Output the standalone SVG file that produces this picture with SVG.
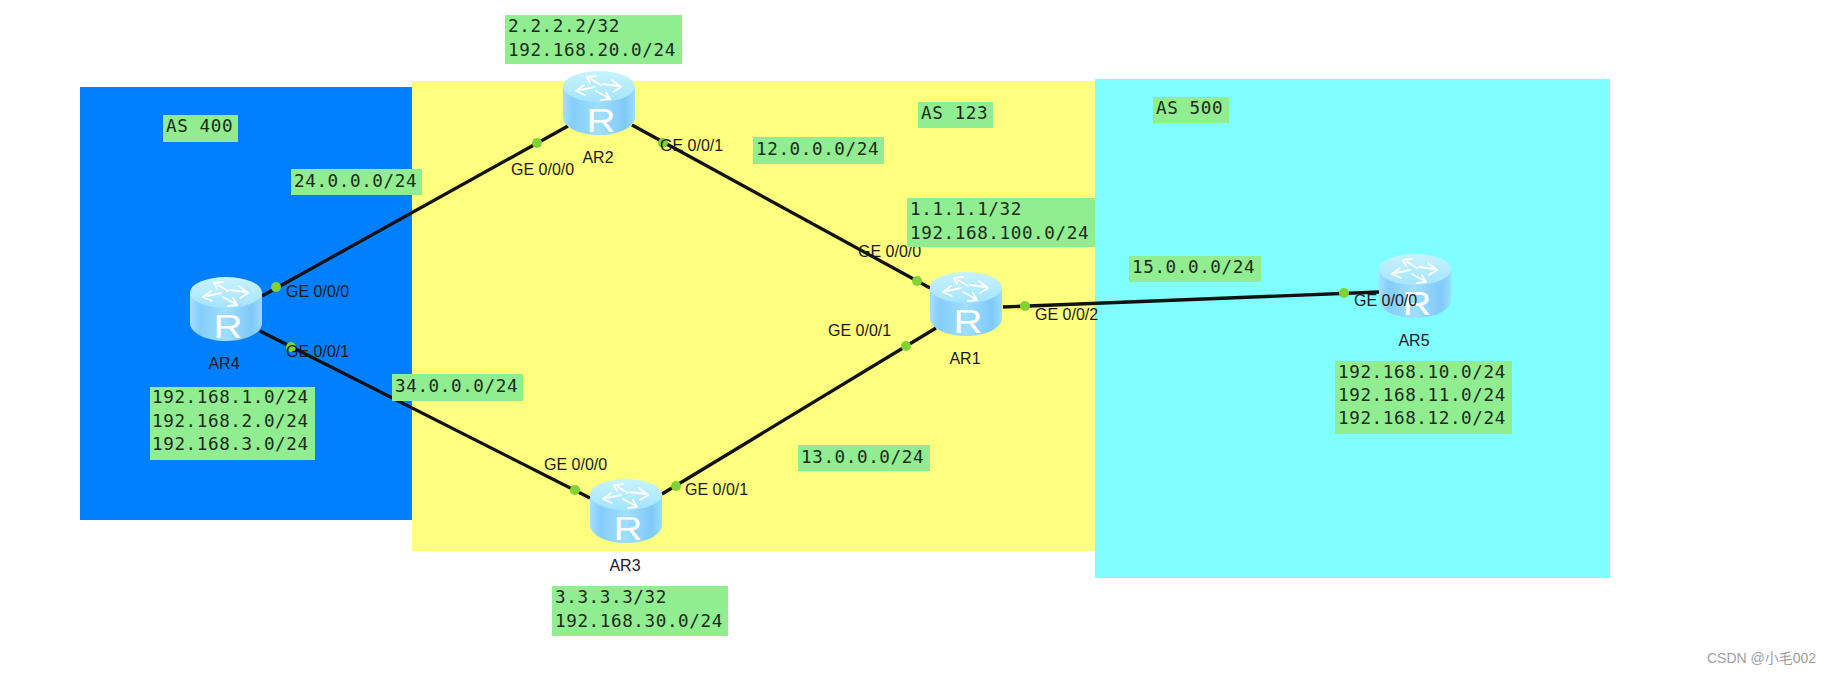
<svg xmlns="http://www.w3.org/2000/svg" xmlns:xlink="http://www.w3.org/1999/xlink" width="1833" height="675" viewBox="0 0 1833 675">
<style>
.box{fill:#90ee90}
.m{font-family:"DejaVu Sans Mono","Liberation Mono",monospace;font-size:17.6px;fill:#1c2a1c;letter-spacing:.6px}
.l{font-family:"Liberation Sans",Arial,sans-serif;font-size:16px;fill:#1a1a1a}
.n{font-family:"Liberation Sans",Arial,sans-serif;font-size:16px;fill:#1a1a2a;text-anchor:middle}
.r{font-family:"Liberation Sans",Arial,sans-serif;font-size:33px;fill:#fff;text-anchor:middle}
.link{stroke:#111;stroke-width:3.3;fill:none}
.dot{fill:#82d235}
</style>
<defs>
<linearGradient id="side" x1="0" x2="1" y1="0" y2="0">
<stop offset="0" stop-color="#a4e0ff"/><stop offset=".14" stop-color="#84cdfb"/><stop offset=".5" stop-color="#9fdfff"/><stop offset=".86" stop-color="#7fc9f8"/><stop offset="1" stop-color="#9cdcff"/>
</linearGradient>
<linearGradient id="top" x1="0" x2="0" y1="0" y2="1">
<stop offset="0" stop-color="#c8f3ff"/><stop offset="1" stop-color="#a4e4fd"/>
</linearGradient>
<symbol id="router" width="72" height="64" viewBox="0 0 72 64" overflow="visible">
<path d="M0 16V46C0 56 16 64 36 64S72 56 72 46V16Z" fill="url(#side)"/>
<ellipse cx="36" cy="15.500" rx="36" ry="15.500" fill="url(#top)"/>
<g fill="none" stroke="#fff" stroke-width="1.800" stroke-linejoin="round" stroke-linecap="round">
<path d="M38 14L28 8M33 5L24 6L27 12"/>
<path d="M40 13L55 15M49 9L58 16L50 21"/>
<path d="M31 16L17 19M21 14L13 20L22 24"/>
<path d="M33 20L44 26M38 29L47 28L43 21"/>
</g>
</symbol>
</defs>

<g id="zones">
<rect id="as400" x="80" y="87" width="333" height="433" fill="#007fff"/>
<rect id="as123" x="412" y="81" width="683" height="470" fill="#ffff7f"/>
<rect id="as500" x="1095" y="79" width="515" height="499" fill="#7fffff"/>
</g>

<g id="connectors">
<path class="link" d="M262 296L568 126"/>
<path class="link" d="M632 125L930 288"/>
<path class="link" d="M260 331L590 498"/>
<path class="link" d="M662 494L936 328"/>
<path class="link" d="M1003 307L1379 292"/>
<g>
<circle class="dot" cx="537" cy="143" r="5"/><circle class="dot" cx="663" cy="143" r="5"/>
<circle class="dot" cx="276" cy="287" r="5"/><circle class="dot" cx="291" cy="347" r="5"/>
<circle class="dot" cx="917" cy="281" r="5"/><circle class="dot" cx="906" cy="346" r="5"/>
<circle class="dot" cx="1025" cy="306" r="5"/><circle class="dot" cx="1344" cy="293" r="5"/>
<circle class="dot" cx="575" cy="490" r="5"/><circle class="dot" cx="676" cy="486" r="5"/>
</g>
<text class="l" x="511" y="175">GE 0/0/0</text>
<text class="l" x="660" y="151">GE 0/0/1</text>
<text class="l" x="286" y="297">GE 0/0/0</text>
<text class="l" x="286" y="357">GE 0/0/1</text>
<text class="l" x="858" y="257">GE 0/0/0</text>
<text class="l" x="828" y="336">GE 0/0/1</text>
<text class="l" x="1035" y="320">GE 0/0/2</text>
<text class="l" x="544" y="470">GE 0/0/0</text>
<text class="l" x="685" y="495">GE 0/0/1</text>
</g>

<g id="AR4"><use xlink:href="#router" href="#router" x="190" y="277"/><text class="r" x="228" y="338" textLength="29" lengthAdjust="spacingAndGlyphs">R</text><text class="n" x="224" y="369">AR4</text></g>
<g id="AR2"><use xlink:href="#router" href="#router" x="563" y="71"/><text class="r" x="601" y="132" textLength="29" lengthAdjust="spacingAndGlyphs">R</text><text class="n" x="598" y="163">AR2</text></g>
<g id="AR3"><use xlink:href="#router" href="#router" x="590" y="479"/><text class="r" x="628" y="540" textLength="29" lengthAdjust="spacingAndGlyphs">R</text><text class="n" x="625" y="571">AR3</text></g>
<g id="AR1"><use xlink:href="#router" href="#router" x="930" y="272"/><text class="r" x="968" y="333" textLength="29" lengthAdjust="spacingAndGlyphs">R</text><text class="n" x="965" y="364">AR1</text></g>
<g id="AR5"><use xlink:href="#router" href="#router" x="1379" y="254"/><text class="r" x="1417" y="315" textLength="29" lengthAdjust="spacingAndGlyphs">R</text><text class="n" x="1414" y="346">AR5</text></g>
<text class="l" x="1354" y="306">GE 0/0/0</text>

<g id="labels">
<g><rect class="box" x="505" y="15" width="177" height="49"/><text class="m" x="508" y="32">2.2.2.2/32</text><text class="m" x="508" y="56">192.168.20.0/24</text></g>
<g><rect class="box" x="907" y="198" width="188" height="49"/><text class="m" x="910" y="215">1.1.1.1/32</text><text class="m" x="910" y="239">192.168.100.0/24</text></g>
<g><rect class="box" x="552" y="586" width="176" height="50"/><text class="m" x="555" y="603">3.3.3.3/32</text><text class="m" x="555" y="627">192.168.30.0/24</text></g>
<g><rect class="box" x="150" y="387" width="165" height="73"/><text class="m" x="152" y="403">192.168.1.0/24</text><text class="m" x="152" y="427">192.168.2.0/24</text><text class="m" x="152" y="450">192.168.3.0/24</text></g>
<g><rect class="box" x="1335" y="361" width="177" height="73"/><text class="m" x="1338" y="378">192.168.10.0/24</text><text class="m" x="1338" y="401">192.168.11.0/24</text><text class="m" x="1338" y="424">192.168.12.0/24</text></g>
<g><rect class="box" x="163" y="115" width="75" height="27"/><text class="m" x="166" y="132">AS 400</text></g>
<g><rect class="box" x="918" y="102" width="75" height="26"/><text class="m" x="921" y="119">AS 123</text></g>
<g><rect class="box" x="1153" y="97" width="76" height="26"/><text class="m" x="1156" y="114">AS 500</text></g>
<g><rect class="box" x="291" y="169" width="131" height="26"/><text class="m" x="294" y="187">24.0.0.0/24</text></g>
<g><rect class="box" x="753" y="137" width="131" height="27"/><text class="m" x="756" y="155">12.0.0.0/24</text></g>
<g><rect class="box" x="1129" y="256" width="132" height="26"/><text class="m" x="1132" y="273">15.0.0.0/24</text></g>
<g><rect class="box" x="392" y="374" width="131" height="27"/><text class="m" x="395" y="392">34.0.0.0/24</text></g>
<g><rect class="box" x="798" y="445" width="132" height="26"/><text class="m" x="801" y="463">13.0.0.0/24</text></g>
</g>
<text x="1707" y="663" font-family="'Liberation Sans','Noto Sans CJK SC',sans-serif" font-size="14" fill="#a0a0a0">CSDN @小毛002</text>
</svg>
